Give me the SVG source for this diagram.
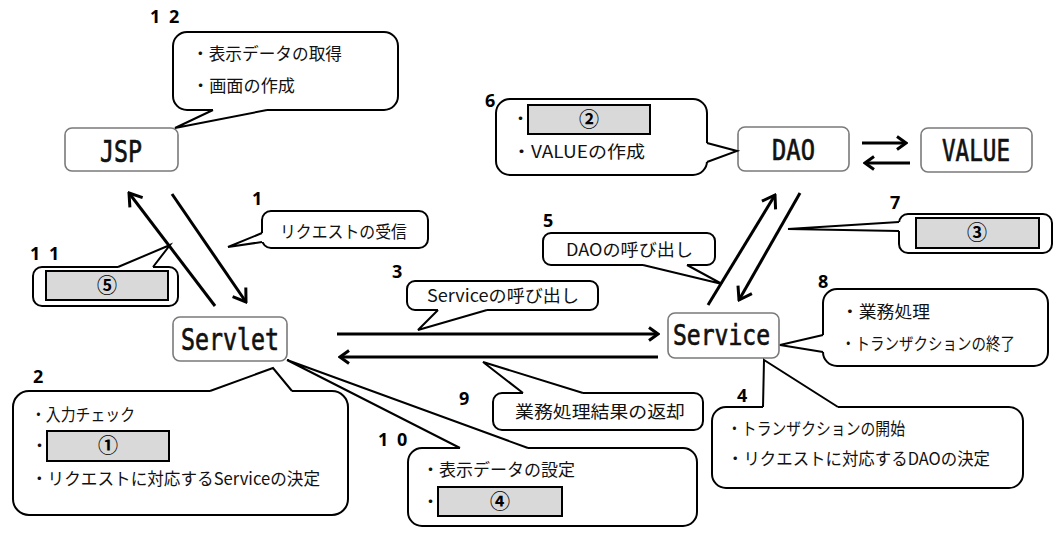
<svg xmlns="http://www.w3.org/2000/svg" width="1059" height="540" viewBox="0 0 1059 540">
<style>
.node rect{fill:#fff;stroke:#7a7a7a;stroke-width:1.6}
.nt{font-family:"DejaVu Sans Mono","Liberation Mono",monospace;fill:#111;stroke:#111;stroke-width:0.7}
.co{fill:#fff;stroke:#000;stroke-width:2}
.cv{fill:#fff;stroke:none}
.tl{fill:none;stroke:#000;stroke-width:2;stroke-linejoin:miter}
.t{font-family:"Noto Sans CJK JP","Noto Sans",sans-serif;font-size:17px;fill:#111}
.n{font-family:"Noto Sans","DejaVu Sans",sans-serif;font-size:18px;font-weight:bold;fill:#000}
.gb{fill:#d9d9d9;stroke:#000;stroke-width:2}
.cn{font-family:"Noto Sans CJK JP",sans-serif;font-size:20px;font-weight:bold;fill:#000;text-anchor:middle}
.ar{fill:none;stroke:#000;stroke-width:3}
</style>
<defs>
<marker id="hd" viewBox="0 0 16 20" refX="14" refY="10" markerWidth="16" markerHeight="20" markerUnits="userSpaceOnUse" orient="auto">
<path d="M2,2 L14,10 L2,18" fill="none" stroke="#000" stroke-width="3"/>
</marker>
<marker id="hs" viewBox="0 0 12 16" refX="10" refY="8" markerWidth="12" markerHeight="16" markerUnits="userSpaceOnUse" orient="auto">
<path d="M1,1.5 L10,8 L1,14.5" fill="none" stroke="#000" stroke-width="3"/>
</marker>
</defs>
<rect width="1059" height="540" fill="#fff"/>

<g id="connectors">
<line class="ar" x1="215" y1="306" x2="129" y2="193" marker-end="url(#hd)"/>
<line class="ar" x1="172" y1="194" x2="246" y2="302" marker-end="url(#hd)"/>
<line class="ar" x1="337" y1="334" x2="658" y2="334" marker-end="url(#hs)"/>
<line class="ar" x1="658" y1="357" x2="340" y2="357" marker-end="url(#hs)"/>
<line class="ar" x1="708" y1="305" x2="775" y2="195" marker-end="url(#hd)"/>
<line class="ar" x1="800" y1="193" x2="739" y2="300" marker-end="url(#hd)"/>
<line class="ar" x1="862" y1="143" x2="906" y2="143" marker-end="url(#hs)"/>
<line class="ar" x1="910" y1="163" x2="865" y2="163" marker-end="url(#hs)"/>
</g>

<g id="node-jsp" class="node">
<rect x="65" y="128" width="113" height="43" rx="7"/>
<text class="nt" x="100" y="162" font-size="30" textLength="42" lengthAdjust="spacingAndGlyphs">JSP</text>
</g>
<g id="node-servlet" class="node">
<rect x="173" y="317" width="114" height="44" rx="7"/>
<text class="nt" x="181" y="350" font-size="30" textLength="98" lengthAdjust="spacingAndGlyphs">Servlet</text>
</g>
<g id="node-service" class="node">
<rect x="668" y="313" width="111" height="45" rx="7"/>
<text class="nt" x="673" y="345" font-size="28" textLength="97" lengthAdjust="spacingAndGlyphs">Service</text>
</g>
<g id="node-dao" class="node">
<rect x="738" y="127" width="111" height="44" rx="7"/>
<text class="nt" x="772" y="160" font-size="29" textLength="43" lengthAdjust="spacingAndGlyphs">DAO</text>
</g>
<g id="node-value" class="node">
<rect x="921" y="128" width="111" height="44" rx="7"/>
<text class="nt" x="942" y="161" font-size="30" textLength="68" lengthAdjust="spacingAndGlyphs">VALUE</text>
</g>

<g id="callout-12">
<text class="n" x="150" y="23" letter-spacing="2">1 2</text>
<rect class="co" x="173" y="32" width="225" height="78" rx="14"/>
<polygon class="cv" points="213,110 175,128 267,110 267,107 213,107"/>
<polyline class="tl" points="213,110 175,128 267,110"/>
<text class="t" x="192" y="60" textLength="150" lengthAdjust="spacingAndGlyphs">・表示データの取得</text>
<text class="t" x="192" y="92" textLength="103" lengthAdjust="spacingAndGlyphs">・画面の作成</text>
</g>

<g id="callout-1">
<text class="n" x="252" y="205">1</text>
<rect class="co" x="262" y="211" width="166" height="37" rx="9"/>
<polygon class="cv" points="262,233 228,247 262,242 265,242 265,233"/>
<polyline class="tl" points="262,233 228,247 262,242"/>
<text class="t" x="280" y="238" textLength="127" lengthAdjust="spacingAndGlyphs">リクエストの受信</text>
</g>

<g id="callout-11">
<text class="n" x="30" y="260" letter-spacing="2">1 1</text>
<rect class="co" x="33" y="267" width="145" height="39" rx="9"/>
<polygon class="cv" points="118,267 170,245 153,267 153,270 118,270"/>
<polyline class="tl" points="118,267 170,245 153,267"/>
<rect class="gb" x="46" y="271" width="122" height="29"/>
<text class="cn" x="107" y="293">⑤</text>
</g>

<g id="callout-3">
<text class="n" x="392" y="278">3</text>
<rect class="co" x="407" y="281" width="191" height="29" rx="8"/>
<polygon class="cv" points="438,310 418,330 487,310 487,307 438,307"/>
<polyline class="tl" points="438,310 418,330 487,310"/>
<text class="t" x="427" y="302" textLength="152" lengthAdjust="spacingAndGlyphs">Serviceの呼び出し</text>
</g>

<g id="callout-5">
<text class="n" x="543" y="227">5</text>
<rect class="co" x="543" y="233" width="172" height="32" rx="8"/>
<polygon class="cv" points="643,265 722,284 687,265 687,262 643,262"/>
<polyline class="tl" points="643,265 722,284 687,265"/>
<text class="t" x="566" y="256" textLength="127" lengthAdjust="spacingAndGlyphs">DAOの呼び出し</text>
</g>

<g id="callout-6">
<text class="n" x="485" y="107">6</text>
<rect class="co" x="496" y="99" width="211" height="76" rx="14"/>
<polygon class="cv" points="707,143 737,151 707,162 704,162 704,143"/>
<polyline class="tl" points="707,143 737,151 707,162"/>
<text class="t" x="512" y="125">・</text>
<rect class="gb" x="528" y="105" width="122" height="29"/>
<text class="cn" x="589" y="127">②</text>
<text class="t" x="512" y="158" textLength="133" lengthAdjust="spacingAndGlyphs">・VALUEの作成</text>
</g>

<g id="callout-7">
<text class="n" x="890" y="209">7</text>
<rect class="co" x="899" y="214" width="153" height="39" rx="9"/>
<polygon class="cv" points="899,222 788,229 899,231 902,231 902,222"/>
<polyline class="tl" points="899,222 788,229 899,231"/>
<rect class="gb" x="916" y="218" width="123" height="30"/>
<text class="cn" x="977" y="240">③</text>
</g>

<g id="callout-8">
<text class="n" x="818" y="288">8</text>
<rect class="co" x="823" y="289" width="225" height="77" rx="14"/>
<polygon class="cv" points="823,335 780,345 823,352 826,352 826,335"/>
<polyline class="tl" points="823,335 780,345 823,352"/>
<text class="t" x="841" y="318" textLength="89" lengthAdjust="spacingAndGlyphs">・業務処理</text>
<text class="t" x="841" y="350" textLength="174" lengthAdjust="spacingAndGlyphs">・トランザクションの終了</text>
</g>

<g id="callout-4">
<text class="n" x="737" y="402">4</text>
<rect class="co" x="712" y="407" width="311" height="81" rx="14"/>
<polygon class="cv" points="763,407 764,360 838,407 838,410 763,410"/>
<polyline class="tl" points="763,407 764,360 838,407"/>
<text class="t" x="727" y="435" textLength="178" lengthAdjust="spacingAndGlyphs">・トランザクションの開始</text>
<text class="t" x="727" y="465" textLength="263" lengthAdjust="spacingAndGlyphs">・リクエストに対応するDAOの決定</text>
</g>

<g id="callout-9">
<text class="n" x="459" y="405">9</text>
<rect class="co" x="493" y="393" width="210" height="37" rx="9"/>
<polygon class="cv" points="523,393 483,362 583,393 583,396 523,396"/>
<polyline class="tl" points="523,393 483,362 583,393"/>
<text class="t" x="515" y="418" font-size="19" textLength="170" lengthAdjust="spacingAndGlyphs">業務処理結果の返却</text>
</g>

<g id="callout-2">
<text class="n" x="33" y="383">2</text>
<rect class="co" x="13" y="391" width="335" height="124" rx="16"/>
<polygon class="cv" points="210,391 273,368 292,391 292,394 210,394"/>
<polyline class="tl" points="210,391 273,368 292,391"/>
<text class="t" x="31" y="421" textLength="104" lengthAdjust="spacingAndGlyphs">・入力チェック</text>
<text class="t" x="31" y="452">・</text>
<rect class="gb" x="47" y="431" width="122" height="30"/>
<text class="cn" x="108" y="453">①</text>
<text class="t" x="31" y="485" textLength="289" lengthAdjust="spacingAndGlyphs">・リクエストに対応するServiceの決定</text>
</g>

<g id="callout-10">
<text class="n" x="378" y="446" letter-spacing="2">1 0</text>
<rect class="co" x="408" y="448" width="289" height="78" rx="14"/>
<polygon class="cv" points="460,448 287,360 528,448 528,451 460,451"/>
<polyline class="tl" points="460,448 287,360 528,448"/>
<text class="t" x="422" y="476" textLength="153" lengthAdjust="spacingAndGlyphs">・表示データの設定</text>
<text class="t" x="422" y="508">・</text>
<rect class="gb" x="438" y="487" width="124" height="29"/>
<text class="cn" x="500" y="509">④</text>
</g>
</svg>
